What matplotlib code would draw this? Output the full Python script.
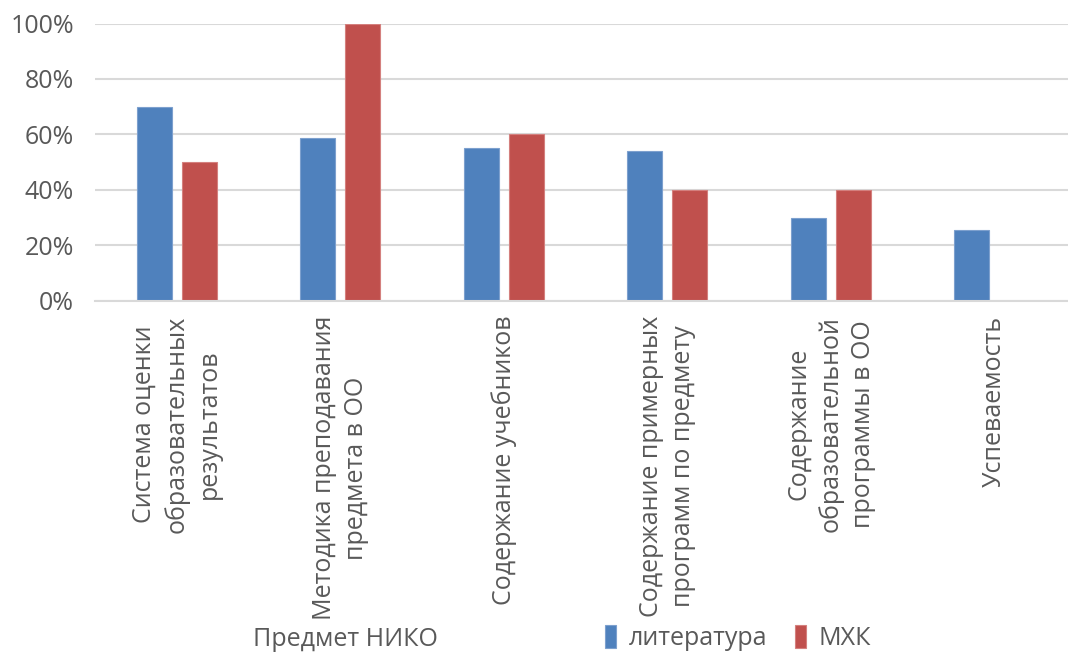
import matplotlib.pyplot as plt
import numpy as np

plt.rcParams['font.family'] = ['Open Sans', 'DejaVu Sans']

categories = ['Система оценки\nобразовательных\nрезультатов',
              'Методика преподавания\nпредмета в ОО',
              'Содержание учебников',
              'Содержание примерных\nпрограмм по предмету',
              'Содержание\nобразовательной\nпрограммы в ОО',
              'Успеваемость']
literatura = [0.70, 0.586, 0.55, 0.54, 0.297, 0.255]
mhk = [0.50, 1.00, 0.60, 0.40, 0.40, 0.0]
yticks = [0, 0.2, 0.4, 0.6, 0.8, 1.0]
ytick_labels = ['0%', '20%', '40%', '60%', '80%', '100%']

grey = '#595959'
fs = 18
fig = plt.figure(figsize=(10.68, 6.57), dpi=100)
ax = fig.add_axes([0.089, 0.5426, 0.911, 0.4216])

x = np.arange(len(categories))
w = 0.214
off = 0.1375
ax.bar(x - off, literatura, w, color='#4F81BD', edgecolor='#7DA0CE', linewidth=0.8, label='литература')
ax.bar(x + off, mhk, w, color='#C0504D', edgecolor='#D4807E', linewidth=0.8, label='МХК')

ax.set_xlim(-0.5, 5.45)
ax.set_ylim(0, 1.0)
ax.set_yticks(yticks)
ax.set_yticklabels(ytick_labels, fontsize=fs, color=grey)
ax.set_xticks([])
ax.yaxis.grid(True, color='#D9D9D9', linewidth=1.5)
ax.set_axisbelow(True)
ax.tick_params(axis='y', length=0, pad=15)
for s in ['top', 'right', 'left']:
    ax.spines[s].set_visible(False)
ax.spines['bottom'].set_color('#D9D9D9')
ax.spines['bottom'].set_linewidth(1.5)

for i, lab in enumerate(categories):
    ax.text(x[i], -0.055, lab, rotation=90, ha='center', va='top', multialignment='center',
            fontsize=fs, color=grey, linespacing=1.35, clip_on=False)

fig.text(345 / 1068, 1 - 640 / 657, 'Предмет НИКО', ha='center', va='center', fontsize=fs, color=grey)
fig.legend(loc='center', bbox_to_anchor=(738 / 1068, 1 - 638 / 657), ncol=2, frameon=False,
           fontsize=fs, labelcolor=grey, handlelength=0.45, handleheight=1.0, handletextpad=0.5,
           columnspacing=1.1)

fig.savefig('out.png', dpi=100)
